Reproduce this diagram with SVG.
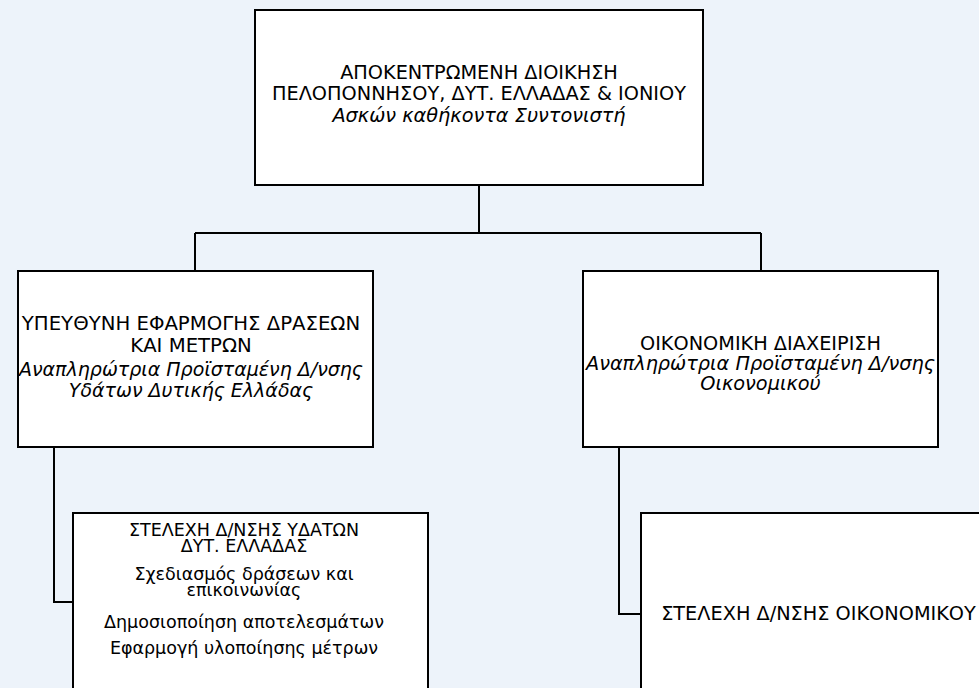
<svg xmlns="http://www.w3.org/2000/svg" width="979" height="688" viewBox="0 0 979 688">
<style>
.box{fill:#fff;stroke:#000;stroke-width:2}
.con{fill:none;stroke:#000;stroke-width:2}
text{font-family:"DejaVu Sans","Liberation Sans",sans-serif;fill:#000;text-anchor:middle}
.t{font-size:19.3px}
.i{font-size:19.3px;font-style:italic}
.s{font-size:17.5px}
</style>
<rect x="0" y="0" width="979" height="688" fill="#edf3fa"/>
<g id="connectors">
<path class="con" d="M479,185 V233 M195,233 H761 M195,233 V271 M761,233 V271"/>
<path class="con" d="M54,447 V602 H73"/>
<path class="con" d="M619,447 V614 H641"/>
</g>
<g id="top">
<rect class="box" x="255" y="10" width="448" height="175"/>
<text class="t" x="479" y="78.5">ΑΠΟΚΕΝΤΡΩΜΕΝΗ ΔΙΟΙΚΗΣΗ</text>
<text class="t" x="479" y="100">ΠΕΛΟΠΟΝΝΗΣΟΥ, ΔΥΤ. ΕΛΛΑΔΑΣ &amp; ΙΟΝΙΟΥ</text>
<text class="i" x="479" y="122">Ασκών καθήκοντα Συντονιστή</text>
</g>
<g id="left">
<rect class="box" x="18" y="271" width="355" height="176"/>
<text class="t" x="191" y="330" style="font-size:19.7px">ΥΠΕΥΘΥΝΗ ΕΦΑΡΜΟΓΗΣ ΔΡΑΣΕΩΝ</text>
<text class="t" x="191" y="352" style="font-size:19.7px">ΚΑΙ ΜΕΤΡΩΝ</text>
<text class="i" x="191" y="375.5" style="font-size:19px">Αναπληρώτρια Προϊσταμένη Δ/νσης</text>
<text class="i" x="191" y="396.5" style="font-size:19px">Υδάτων Δυτικής Ελλάδας</text>
</g>
<g id="right">
<rect class="box" x="583" y="271" width="355" height="176"/>
<text class="t" x="760.5" y="350">ΟΙΚΟΝΟΜΙΚΗ ΔΙΑΧΕΙΡΙΣΗ</text>
<text class="i" x="760.5" y="370">Αναπληρώτρια Προϊσταμένη Δ/νσης</text>
<text class="i" x="760.5" y="389.5">Οικονομικού</text>
</g>
<g id="bottom-left">
<rect class="box" x="73" y="513" width="355" height="200"/>
<text class="s" x="244" y="535.5">ΣΤΕΛΕΧΗ Δ/ΝΣΗΣ ΥΔΑΤΩΝ</text>
<text class="s" x="244" y="552">ΔΥΤ. ΕΛΛΑΔΑΣ</text>
<text class="s" x="244" y="579.5">Σχεδιασμός δράσεων και</text>
<text class="s" x="244" y="596">επικοινωνίας</text>
<text class="s" x="244" y="628">Δημοσιοποίηση αποτελεσμάτων</text>
<text class="s" x="244" y="654">Εφαρμογή υλοποίησης μέτρων</text>
</g>
<g id="bottom-right">
<rect class="box" x="641" y="513" width="355" height="200"/>
<text class="t" x="818.5" y="620">ΣΤΕΛΕΧΗ Δ/ΝΣΗΣ ΟΙΚΟΝΟΜΙΚΟΥ</text>
</g>
</svg>
